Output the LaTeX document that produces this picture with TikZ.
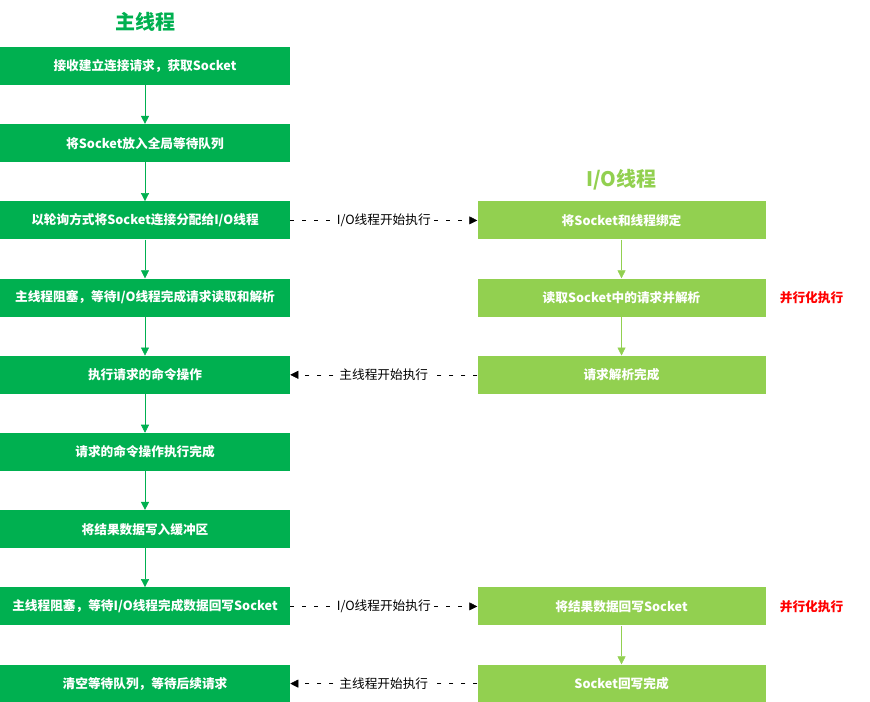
\documentclass[tikz,border=0pt]{standalone}
\usepackage{fontspec}
\setmainfont{Noto Sans CJK SC}
\usetikzlibrary{arrows.meta,positioning}
\definecolor{mainc}{HTML}{00B050}
\definecolor{ioc}{HTML}{92D050}

\begin{document}
\begin{tikzpicture}[
		x=0.75pt,y=-0.75pt,
		node distance=29pt,
		lab/.style={font=\fontsize{9.5}{11}\selectfont},
		title/.style={font=\fontsize{15}{17}\selectfont\bfseries},
		mainbox/.style={fill=mainc,text=white,minimum width=217.5pt,minimum height=28.5pt,inner sep=0pt,font=\fontsize{9.5}{11}\selectfont\bfseries},
		iobox/.style={fill=ioc,text=white,minimum width=216pt,minimum height=28.5pt,inner sep=0pt,font=\fontsize{9.5}{11}\selectfont\bfseries},
		flow/.style={-{Triangle[length=6pt,width=6pt]},thin},
		hand/.style={-{Triangle[length=6pt,width=6pt]},thin,black,dash pattern=on 3pt off 6pt},
		note/.style={text=red,font=\fontsize{9.5}{11}\selectfont\bfseries}
		]
		\useasboundingbox (0,0) rectangle (870,701);
		
		% --- main thread column
		\node[title,text=mainc] (tmain) at (145,22) {主线程};
		\node[mainbox] (m1) at (145,66) {接收建立连接请求，获取Socket};
		\node[mainbox,below=of m1] (m2) {将Socket放入全局等待队列};
		\node[mainbox,below=of m2] (m3) {以轮询方式将Socket连接分配给I/O线程};
		\node[mainbox,below=of m3] (m4) {主线程阻塞，等待I/O线程完成请求读取和解析};
		\node[mainbox,below=of m4] (m5) {执行请求的命令操作};
		\node[mainbox,below=of m5] (m6) {请求的命令操作执行完成};
		\node[mainbox,below=of m6] (m7) {将结果数据写入缓冲区};
		\node[mainbox,below=of m7] (m8) {主线程阻塞，等待I/O线程完成数据回写Socket};
		\node[mainbox,below=of m8] (m9) {清空等待队列，等待后续请求};
		
		\foreach \a/\b in {m1/m2,m2/m3,m3/m4,m4/m5,m5/m6,m6/m7,m7/m8}
		\draw[flow,mainc] (\a) -- (\b);
		
		% --- I/O thread column
		\node[iobox,right=140.25pt of m3] (io1) {将Socket和线程绑定};
		\node[iobox,below=of io1] (io2) {读取Socket中的请求并解析};
		\node[iobox,below=of io2] (io3) {请求解析完成};
		\node[iobox,right=140.25pt of m8] (io4) {将结果数据回写Socket};
		\node[iobox,below=of io4] (io5) {Socket回写完成};
		\node[title,text=ioc,above=5pt of io1] (tio) {I/O线程};
		
		\draw[flow,ioc] (io1) -- (io2);
		\draw[flow,ioc] (io2) -- (io3);
		\draw[flow,ioc] (io4) -- (io5);
		
		\node[note,right=7pt of io2] (p1) {并行化执行};
		\node[note,right=7pt of io4] (p2) {并行化执行};
		
		% --- hand-over between threads
		\draw[hand] (m3) -- node[lab,fill=white,inner sep=1pt] {I/O线程开始执行} (io1);
		\draw[hand] (io3) -- node[lab,fill=white,inner sep=1pt] {主线程开始执行} (m5);
		\draw[hand] (m8) -- node[lab,fill=white,inner sep=1pt] {I/O线程开始执行} (io4);
		\draw[hand] (io5) -- node[lab,fill=white,inner sep=1pt] {主线程开始执行} (m9);
		
	\end{tikzpicture}
\end{document}
